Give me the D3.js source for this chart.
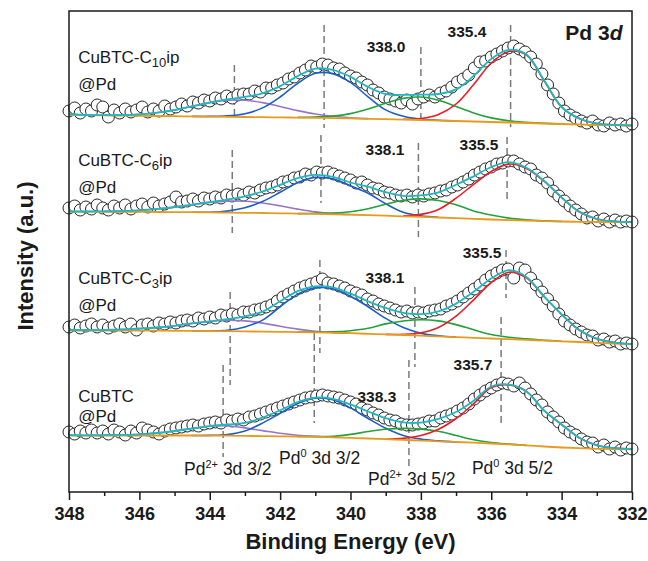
<!DOCTYPE html>
<html>
<head>
<meta charset="utf-8">
<script src="https://cdn.jsdelivr.net/npm/d3@7"></script>
<style>
  body { margin: 0; background: #fff; }
  text { font-family: "Liberation Sans", Arial, sans-serif; fill: #1a1a1a; }
</style>
</head>
<body>
<svg id="xps"></svg>
<script>
const _ = null;

// binding energy grids (eV)
const fitEnergy = [348, 347.5, 347, 346.5, 346, 345.5, 345, 344.5, 344, 343.5, 343, 342.5, 342, 341.5, 341, 340.5, 340,
  339.5, 339, 338.5, 338, 337.5, 337, 336.5, 336, 335.5, 335, 334.5, 334, 333.5, 333, 332.5, 332];
const dataEnergy = [348.00, 347.84, 347.68, 347.52, 347.36, 347.20, 347.04, 346.88, 346.72, 346.56,
  346.40, 346.24, 346.08, 345.92, 345.76, 345.60, 345.44, 345.28, 345.12, 344.96,
  344.80, 344.64, 344.48, 344.32, 344.16, 344.00, 343.84, 343.68, 343.52, 343.36,
  343.20, 343.04, 342.88, 342.72, 342.56, 342.40, 342.24, 342.08, 341.92, 341.76,
  341.60, 341.44, 341.28, 341.12, 340.96, 340.80, 340.64, 340.48, 340.32, 340.16,
  340.00, 339.84, 339.68, 339.52, 339.36, 339.20, 339.04, 338.88, 338.72, 338.56,
  338.40, 338.24, 338.08, 337.92, 337.76, 337.60, 337.44, 337.28, 337.12, 336.96,
  336.80, 336.64, 336.48, 336.32, 336.16, 336.00, 335.84, 335.68, 335.52, 335.36,
  335.20, 335.04, 334.88, 334.72, 334.56, 334.40, 334.24, 334.08, 333.92, 333.76,
  333.60, 333.44, 333.28, 333.12, 332.96, 332.80, 332.64, 332.48, 332.32, 332.16, 332.00];

// sample names
const sampleMain = ["CuBTC-C", "CuBTC-C", "CuBTC-C", "CuBTC"];
const sampleSub = ["10", "6", "3", ""];
const sampleTail = ["ip", "ip", "ip", ""];

// fitted peak positions (labels)
const pd2Label = ["338.0", "338.1", "338.1", "338.3"];
const pd0Label = ["335.4", "335.5", "335.5", "335.7"];

// ---- CuBTC-C10ip@Pd (intensity, offset stacked) ----
const rawC10 = [381, 384, 379, 383, 381, 387, 385, 375, 382, 379,
  383, 380, 382, 385, 380, 383, 381, 386, 383, 385,
  388, 386, 390, 389, 392, 391, 394, 393, 396, 394,
  397, 398, 398, 401, 400, 404, 404, 407, 409, 413,
  415, 419, 422, 426, 425, 428, 427, 424, 423, 419,
  416, 414, 410, 407, 402, 399, 395, 393, 391, 389,
  392, 388, 393, 395, 397, 395, 399, 401, 405, 410,
  413, 417, 424, 430, 431, 435, 438, 441, 444, 446,
  443, 440, 435, 428, 418, 407, 398, 389, 381, 377,
  374, 371, 369, 371, 367, 366, 369, 367, 368, 366, 368];
const fitC10 = [378, 377, 376.8, 377, 377.7, 379.3, 382, 385.7, 389.5, 392.6, 395.1, 398.7, 405.9, 415.9, 423.3, 422.2,
  415.1, 405.1, 398, 397.2, 397.4, 398, 402.6, 416.1, 433.1, 442.1, 437.6, 411.7, 385, 373.5, 368.5, 367.1, 366.5];
const baseC10 = [377, 376.8, 376.6, 376.4, 376.2, 376, 375.8, 375.6, 375.4, 375.2, 375, 374.8, 374.6, 374.4, 374.2, 373.9,
  373.6, 373.2, 372.8, 372.4, 372, 371.5, 371, 370.5, 370, 369.5, 369, 368.5, 368, 367.5, 367, 366.8, 366.5];
const pd2a32C10 = [_, _, 376.8, 377, 377.7, 379.3, 382, 385.7, 389.3, 391.7, 391.8, 389.4, 385.5, 381.4, 378, 375.7, 374.3,
  373.4, _, _, _, _, _, _, _, _, _, _, _, _, _, _, _];
const pd0a32C10 = [_, _, _, _, _, _, _, 375.6, 375.6, 376.1, 378.3, 384.1, 395, 408.7, 418.7, 418.4, 409.6, 395.2, 382.1,
  375.7, 372.9, 371.7, 371, _, _, _, _, _, _, _, _, _, _];
const pd2a52C10 = [_, _, _, _, _, _, _, _, _, _, _, _, _, 374.6, 375, 375.9, 378.4, 382.9, 388.7, 393.6, 395, 391.8, 385.6,
  379.1, 374.1, 371.1, 369.6, 368.7, 368, _, _, _, _];
const pd0a52C10 = [_, _, _, _, _, _, _, _, _, _, _, _, _, _, _, _, _, _, _, 372.7, 373.5, 377.5, 388, 407.5, 429, 440.5,
  437, 411.5, 385, 373.5, 368.5, 367.1, 366.5];

// ---- CuBTC-C6ip@Pd ----
const rawC6 = [284, 286, 282, 285, 283, 287, 284, 282, 286, 284,
  287, 283, 286, 288, 285, 289, 286, 288, 290, 295,
  290, 291, 293, 291, 294, 293, 295, 294, 297, 296,
  298, 297, 300, 299, 302, 304, 305, 307, 310, 311,
  314, 315, 318, 317, 320, 319, 320, 318, 316, 314,
  312, 309, 310, 307, 304, 303, 300, 299, 297, 296,
  297, 295, 297, 296, 298, 299, 301, 302, 305, 307,
  310, 313, 317, 320, 323, 325, 328, 329, 331, 331,
  328, 325, 323, 317, 314, 309, 301, 296, 291, 286,
  282, 278, 274, 275, 271, 273, 270, 272, 270, 271, 270];
const fitC6 = [280.5, 280.5, 280.6, 280.9, 281.6, 283, 284.9, 287.3, 289.8, 292.4, 295.7, 300.5, 307.2, 313.9, 317.1,
  315.2, 309.5, 305.3, 299.8, 296.2, 296.6, 299.7, 307.3, 315.6, 325, 329.9, 324.2, 311.2, 294.5, 280.2, 273, 270.7, 270];
const baseC6 = [280.5, 280.4, 280.3, 280.2, 280.1, 280, 279.9, 279.8, 279.6, 279.4, 279.2, 279, 278.7, 278.4, 278.1, 277.7,
  277.3, 276.8, 276.3, 275.7, 275.1, 274.5, 273.8, 273.1, 272.5, 271.9, 271.4, 270.9, 270.5, 270.2, 270, 269.9, 269.8];
const pd2a32C6 = [_, _, 280.6, 280.9, 281.6, 283, 284.9, 287.3, 289.6, 290.9, 290.7, 289, 286.2, 282.9, 280.1, 278.4, 277.5,
  _, _, _, _, _, _, _, _, _, _, _, _, _, _, _, _];
const pd0a32C6 = [_, _, _, _, _, _, _, 279.8, 279.8, 280.9, 284.2, 290.5, 299.7, 309.4, 314.6, 313.2, 306.3, 298.8, 288.3,
  279.7, 276.1, 274.7, _, _, _, _, _, _, _, _, _, _, _];
const pd2a52C6 = [_, _, _, _, _, _, _, _, _, _, _, _, _, 278.4, 278.6, 279, 280.3, 283.3, 287.8, 291.7, 293.1, 291.5, 287.3,
  281.1, 277, 273.9, 272.2, 271.2, 270.5, _, _, _, _];
const pd0a52C6 = [_, _, _, _, _, _, _, _, _, _, _, _, _, _, _, _, _, _, _, 276.2, 277.6, 282.5, 293.8, 307.6, 320.5, 327.9,
  323.4, 310.9, 294.5, 280.2, 273, 270.7, 270];

// ---- CuBTC-C3ip@Pd ----
const rawC3 = [165, 167, 164, 166, 168, 165, 167, 164, 166, 168,
  165, 168, 162, 167, 168, 166, 169, 168, 170, 169,
  171, 172, 171, 174, 173, 175, 174, 177, 176, 178,
  177, 180, 180, 182, 183, 185, 187, 191, 195, 198,
  201, 204, 206, 208, 210, 213, 209, 208, 206, 204,
  201, 199, 197, 193, 191, 188, 186, 184, 182, 180,
  181, 179, 180, 179, 181, 182, 183, 186, 188, 191,
  195, 199, 203, 207, 212, 216, 219, 222, 223, 214,
  224, 222, 214, 207, 200, 193, 186, 178, 171, 167,
  163, 160, 157, 156, 152, 153, 150, 151, 148, 149, 148];
const fitC3 = [162, 162, 162, 162.5, 163.4, 164.5, 166.2, 168.6, 170.7, 172.8, 175.6, 180.4, 190.7, 200.9, 205.7, 204.6,
  198.3, 190.7, 184.1, 179.2, 177.8, 180.6, 188.4, 200.2, 213.5, 221.8, 215.1, 195.8, 177.7, 162, 153.2, 149.4, 147.9];
const baseC3 = [161.5, 161.5, 161.5, 161.5, 161.4, 161.3, 161.2, 161.1, 161, 160.8, 160.6, 160.4, 160.2, 159.9, 159.6, 159.2,
  158.8, 158.2, 157.6, 157, 156.3, 155.6, 154.9, 154.2, 153.5, 152.8, 152.1, 151.4, 150.7, 150, 149.2, 148.4, 147.6];
const pd2a32C3 = [_, 161.6, 162, 162.5, 163.4, 164.5, 166.2, 168.6, 170.5, 171.8, 171.1, 168.9, 165.7, 162.9, 160.8, 159.6,
  158.8, _, _, _, _, _, _, _, _, _, _, _, _, _, _, _, _];
const pd0a32C3 = [_, _, _, _, _, _, _, 161.1, 161.2, 161.8, 165.1, 171.9, 185.2, 197.9, 204.1, 203.2, 195.8, 185.2, 173.6,
  164.5, 158.8, 156.2, 154.9, _, _, _, _, _, _, _, _, _, _];
const pd2a52C3 = [_, _, _, _, _, _, _, _, _, _, _, _, _, 160, 160, 160.2, 161.3, 163.7, 168.1, 171, 172.3, 171.1, 167.4,
  162.2, 157.5, 154.8, 153.1, 151.8, 150.7, _, _, _, _];
const pd0a52C3 = [_, _, _, _, _, _, _, _, _, _, _, _, _, _, _, _, _, _, 157.6, 157.7, 159.3, 164.6, 175.9, 192.2, 209.5,
  219.8, 214.1, 195.4, 177.7, 162, 153.2, 149.4, 147.9];

// ---- CuBTC@Pd ----
const rawCu = [60, 58, 61, 59, 62, 59, 61, 58, 62, 60,
  57, 61, 59, 64, 62, 60, 58, 61, 63, 64,
  65, 66, 67, 66, 68, 69, 70, 69, 72, 71,
  73, 72, 75, 76, 78, 80, 82, 84, 86, 88,
  90, 92, 94, 95, 96, 97, 96, 95, 94, 92,
  90, 88, 84, 82, 79, 77, 74, 72, 71, 68,
  67, 67, 68, 69, 71, 71, 74, 76, 78, 81,
  84, 88, 93, 97, 101, 104, 107, 109, 108, 106,
  109, 104, 98, 92, 87, 80, 75, 70, 64, 60,
  57, 53, 50, 49, 45, 47, 43, 45, 42, 44, 43];
const fitCu = [57, 56.6, 56.8, 57.1, 57.7, 59, 61, 63.5, 65.9, 67.5, 69.1, 74.4, 81.7, 89.8, 94.4, 93.2, 87.6, 80.5, 73.8,
  69.6, 69.4, 73.1, 80, 91.3, 105.5, 107.4, 100.6, 81.5, 67.5, 54.3, 46.7, 43.9, 43];
const baseCu = [56.5, 56.5, 56.5, 56.5, 56.5, 56.5, 56.5, 56.5, 56.4, 56.3, 56.1, 55.9, 55.7, 55.5, 55.2, 54.7, 54.1, 53.5,
  52.8, 52.1, 51.4, 50.7, 50, 49.3, 48.5, 47.6, 46.6, 45.5, 44.5, 43.8, 43.2, 42.9, 42.7];
const pd2a32Cu = [_, 56.6, 56.8, 57.1, 57.7, 59, 61, 63.5, 65.7, 66.3, 64.1, 61.4, 58.7, 56.8, 55.6, 54.7, _, _, _, _, _, _,
  _, _, _, _, _, _, _, _, _, _, _];
const pd0a32Cu = [_, _, _, _, _, _, _, 56.5, 56.6, 57.5, 61.1, 68.9, 78.7, 88.5, 93.7, 92.2, 84.1, 73.5, 63.8, 56.6, 52.9,
  51.1, 50, _, _, _, _, _, _, _, _, _, _];
const pd2a52Cu = [_, _, _, _, _, _, _, _, _, _, _, _, _, 55.5, 55.5, 55.7, 57.6, 60.5, 62.8, 63.6, 62.9, 60.7, 56.5, 52.3,
  49.5, 47.9, 46.6, _, _, _, _, _, _];
const pd0a52Cu = [_, _, _, _, _, _, _, _, _, _, _, _, _, _, _, _, _, _, 52.8, 53.6, 56.4, 62.7, 73.5, 88.3, 104.5, 107.1,
  100.6, 81.5, 67.5, 54.3, 46.7, 43.9, 43];

// reference lines per spectrum: energy, top and bottom intensity
const dashEnergy = [[343.3, 340.75, 338.0, 335.45], [343.36, 340.84, 338.07, 335.55],
  [343.42, 340.87, 338.17, 335.58], [343.62, 341.03, 338.34, 335.72]];
const dashTop = [[427, 467, 445, 467], [342, 357, 349, 355], [200, 232, 205, 242], [127, 159, 132, 175]];
const dashBottom = [[374, 364, 372, 365], [259, 289, 255, 292], [107, 139, 125, 194], [35, 69, 25, 65]];

const majorTicks = [348, 346, 344, 342, 340, 338, 336, 334, 332];
const minorTicks = [347, 345, 343, 341, 339, 337, 335, 333];

const spectra = [
  { raw: rawC10, fit: fitC10, base: baseC10, comps: [pd2a32C10, pd0a32C10, pd2a52C10, pd0a52C10] },
  { raw: rawC6, fit: fitC6, base: baseC6, comps: [pd2a32C6, pd0a32C6, pd2a52C6, pd0a52C6] },
  { raw: rawC3, fit: fitC3, base: baseC3, comps: [pd2a32C3, pd0a32C3, pd2a52C3, pd0a52C3] },
  { raw: rawCu, fit: fitCu, base: baseCu, comps: [pd2a32Cu, pd0a32Cu, pd2a52Cu, pd0a52Cu] }
];
const compColors = ["#9a74cc", "#1c5ec6", "#22a23a", "#ec1c24"];

// text placement in data units (energy, intensity)
const nameAt = [[347.74, 429, 402], [347.74, 326, 299.5], [347.74, 208, 181.5], [347.74, 90.5, 70]];
const pd2At = [[338.99, 440], [339.02, 337], [339.02, 209], [339.25, 90]];
const pd0At = [[336.69, 455], [336.35, 342], [336.26, 234], [336.52, 122]];

// ---------------- drawing ----------------
const W = 648, H = 561;
const margin = { top: 11, right: 16, bottom: 69, left: 69 };
const w = W - margin.left - margin.right;
const h = H - margin.top - margin.bottom;

const svg = d3.select("#xps").attr("width", W).attr("height", H);
const g = svg.append("g").attr("transform", `translate(${margin.left},${margin.top})`);

const x = d3.scaleLinear().domain([348, 332]).range([0, w]);
const y = d3.scaleLinear().domain([0, 481]).range([h, 0]);

// dashed reference lines
spectra.forEach((s, k) => {
  g.selectAll(null)
    .data(dashEnergy[k])
    .enter()
    .append("line")
    .attr("x1", d => x(d)).attr("x2", d => x(d))
    .attr("y1", (d, i) => y(dashTop[k][i]))
    .attr("y2", (d, i) => y(dashBottom[k][i]))
    .attr("stroke", "#7a7a7a")
    .attr("stroke-width", 1.5)
    .style("stroke-dasharray", "7,4");
});

// raw data circles
spectra.forEach(s => {
  g.append("g").selectAll("circle")
    .data(s.raw)
    .enter()
    .append("circle")
    .attr("cx", (d, i) => x(dataEnergy[i]))
    .attr("cy", d => y(d))
    .attr("r", 6)
    .attr("fill", "#fff")
    .attr("stroke", "#262626")
    .attr("stroke-width", 1);
});

const line = d3.line()
  .defined(d => d != null)
  .x((d, i) => x(fitEnergy[i]))
  .y(d => y(d))
  .curve(d3.curveCatmullRom.alpha(0.5));

spectra.forEach(s => {
  s.comps.forEach((c, j) => {
    g.append("path").datum(c)
      .attr("d", line)
      .attr("fill", "none")
      .attr("stroke", compColors[j])
      .attr("stroke-width", 1.6);
  });
  g.append("path").datum(s.base)
    .attr("d", line)
    .attr("fill", "none")
    .attr("stroke", "#e89a1e")
    .attr("stroke-width", 1.8);
  g.append("path").datum(s.fit)
    .attr("d", line)
    .attr("fill", "none")
    .attr("stroke", "#1fb8c0")
    .attr("stroke-width", 1.8);
});

// sample names
spectra.forEach((s, k) => {
  const t = g.append("text")
    .attr("x", x(nameAt[k][0]))
    .attr("y", y(nameAt[k][1]))
    .style("font-size", "17px");
  t.append("tspan").text(sampleMain[k]);
  if (sampleSub[k]) {
    t.append("tspan").attr("dy", 4).style("font-size", "13px").text(sampleSub[k]);
    t.append("tspan").attr("dy", -4).text(sampleTail[k]);
  }
  g.append("text")
    .attr("x", x(nameAt[k][0]))
    .attr("y", y(nameAt[k][2]))
    .style("font-size", "17px")
    .text("@Pd");
});

// peak position labels
spectra.forEach((s, k) => {
  g.append("text")
    .attr("x", x(pd2At[k][0])).attr("y", y(pd2At[k][1]))
    .attr("text-anchor", "middle")
    .style("font-size", "15.5px").style("font-weight", 700)
    .text(pd2Label[k]);
  g.append("text")
    .attr("x", x(pd0At[k][0])).attr("y", y(pd0At[k][1]))
    .attr("text-anchor", "middle")
    .style("font-size", "15.5px").style("font-weight", 700)
    .text(pd0Label[k]);
});

// component names under the bottom spectrum
const compNames = [
  { sup: "2+", rest: " 3d 3/2", at: [344.73, 17] },
  { sup: "0", rest: " 3d 3/2", at: [342.03, 28] },
  { sup: "2+", rest: " 3d 5/2", at: [339.5, 7] },
  { sup: "0", rest: " 3d 5/2", at: [336.55, 18] }
];
compNames.forEach(c => {
  const t = g.append("text")
    .attr("x", x(c.at[0])).attr("y", y(c.at[1]))
    .style("font-size", "17.5px");
  t.append("tspan").text("Pd");
  t.append("tspan").attr("dy", -7).style("font-size", "11px").text(c.sup);
  t.append("tspan").attr("dy", 7).text(c.rest);
});

// Pd 3d tag
const tag = g.append("text")
  .attr("x", x(332.27)).attr("y", y(452))
  .attr("text-anchor", "end")
  .style("font-size", "21px").style("font-weight", 700);
tag.append("tspan").text("Pd 3");
tag.append("tspan").style("font-style", "italic").text("d");

// frame
g.append("rect")
  .attr("width", w).attr("height", h)
  .attr("fill", "none")
  .attr("stroke", "#1a1a1a")
  .attr("stroke-width", 1.5);

// x axis
const xAxis = g.append("g")
  .attr("transform", `translate(0,${h})`)
  .call(d3.axisBottom(x).tickValues(majorTicks).tickSize(8).tickSizeOuter(0).tickPadding(7).tickFormat(d3.format("d")));
xAxis.select(".domain").remove();
xAxis.selectAll("line").attr("stroke", "#1a1a1a").attr("stroke-width", 1.5);
xAxis.selectAll("text")
  .style("font-family", "'Liberation Sans', Arial, sans-serif")
  .style("font-size", "18px").style("font-weight", 700).attr("fill", "#1a1a1a");

const xMinor = g.append("g")
  .attr("transform", `translate(0,${h})`)
  .call(d3.axisBottom(x).tickValues(minorTicks).tickSize(4).tickSizeOuter(0).tickFormat(""));
xMinor.select(".domain").remove();
xMinor.selectAll("line").attr("stroke", "#1a1a1a").attr("stroke-width", 1.5);

// axis titles
svg.append("text")
  .attr("x", margin.left + w / 2).attr("y", 549)
  .attr("text-anchor", "middle")
  .style("font-size", "22px").style("font-weight", 700)
  .text("Binding Energy (eV)");

svg.append("text")
  .attr("transform", "translate(33,256) rotate(-90)")
  .attr("text-anchor", "middle")
  .style("font-size", "22px").style("font-weight", 700)
  .text("Intensity (a.u.)");
</script>
</body>
</html>
